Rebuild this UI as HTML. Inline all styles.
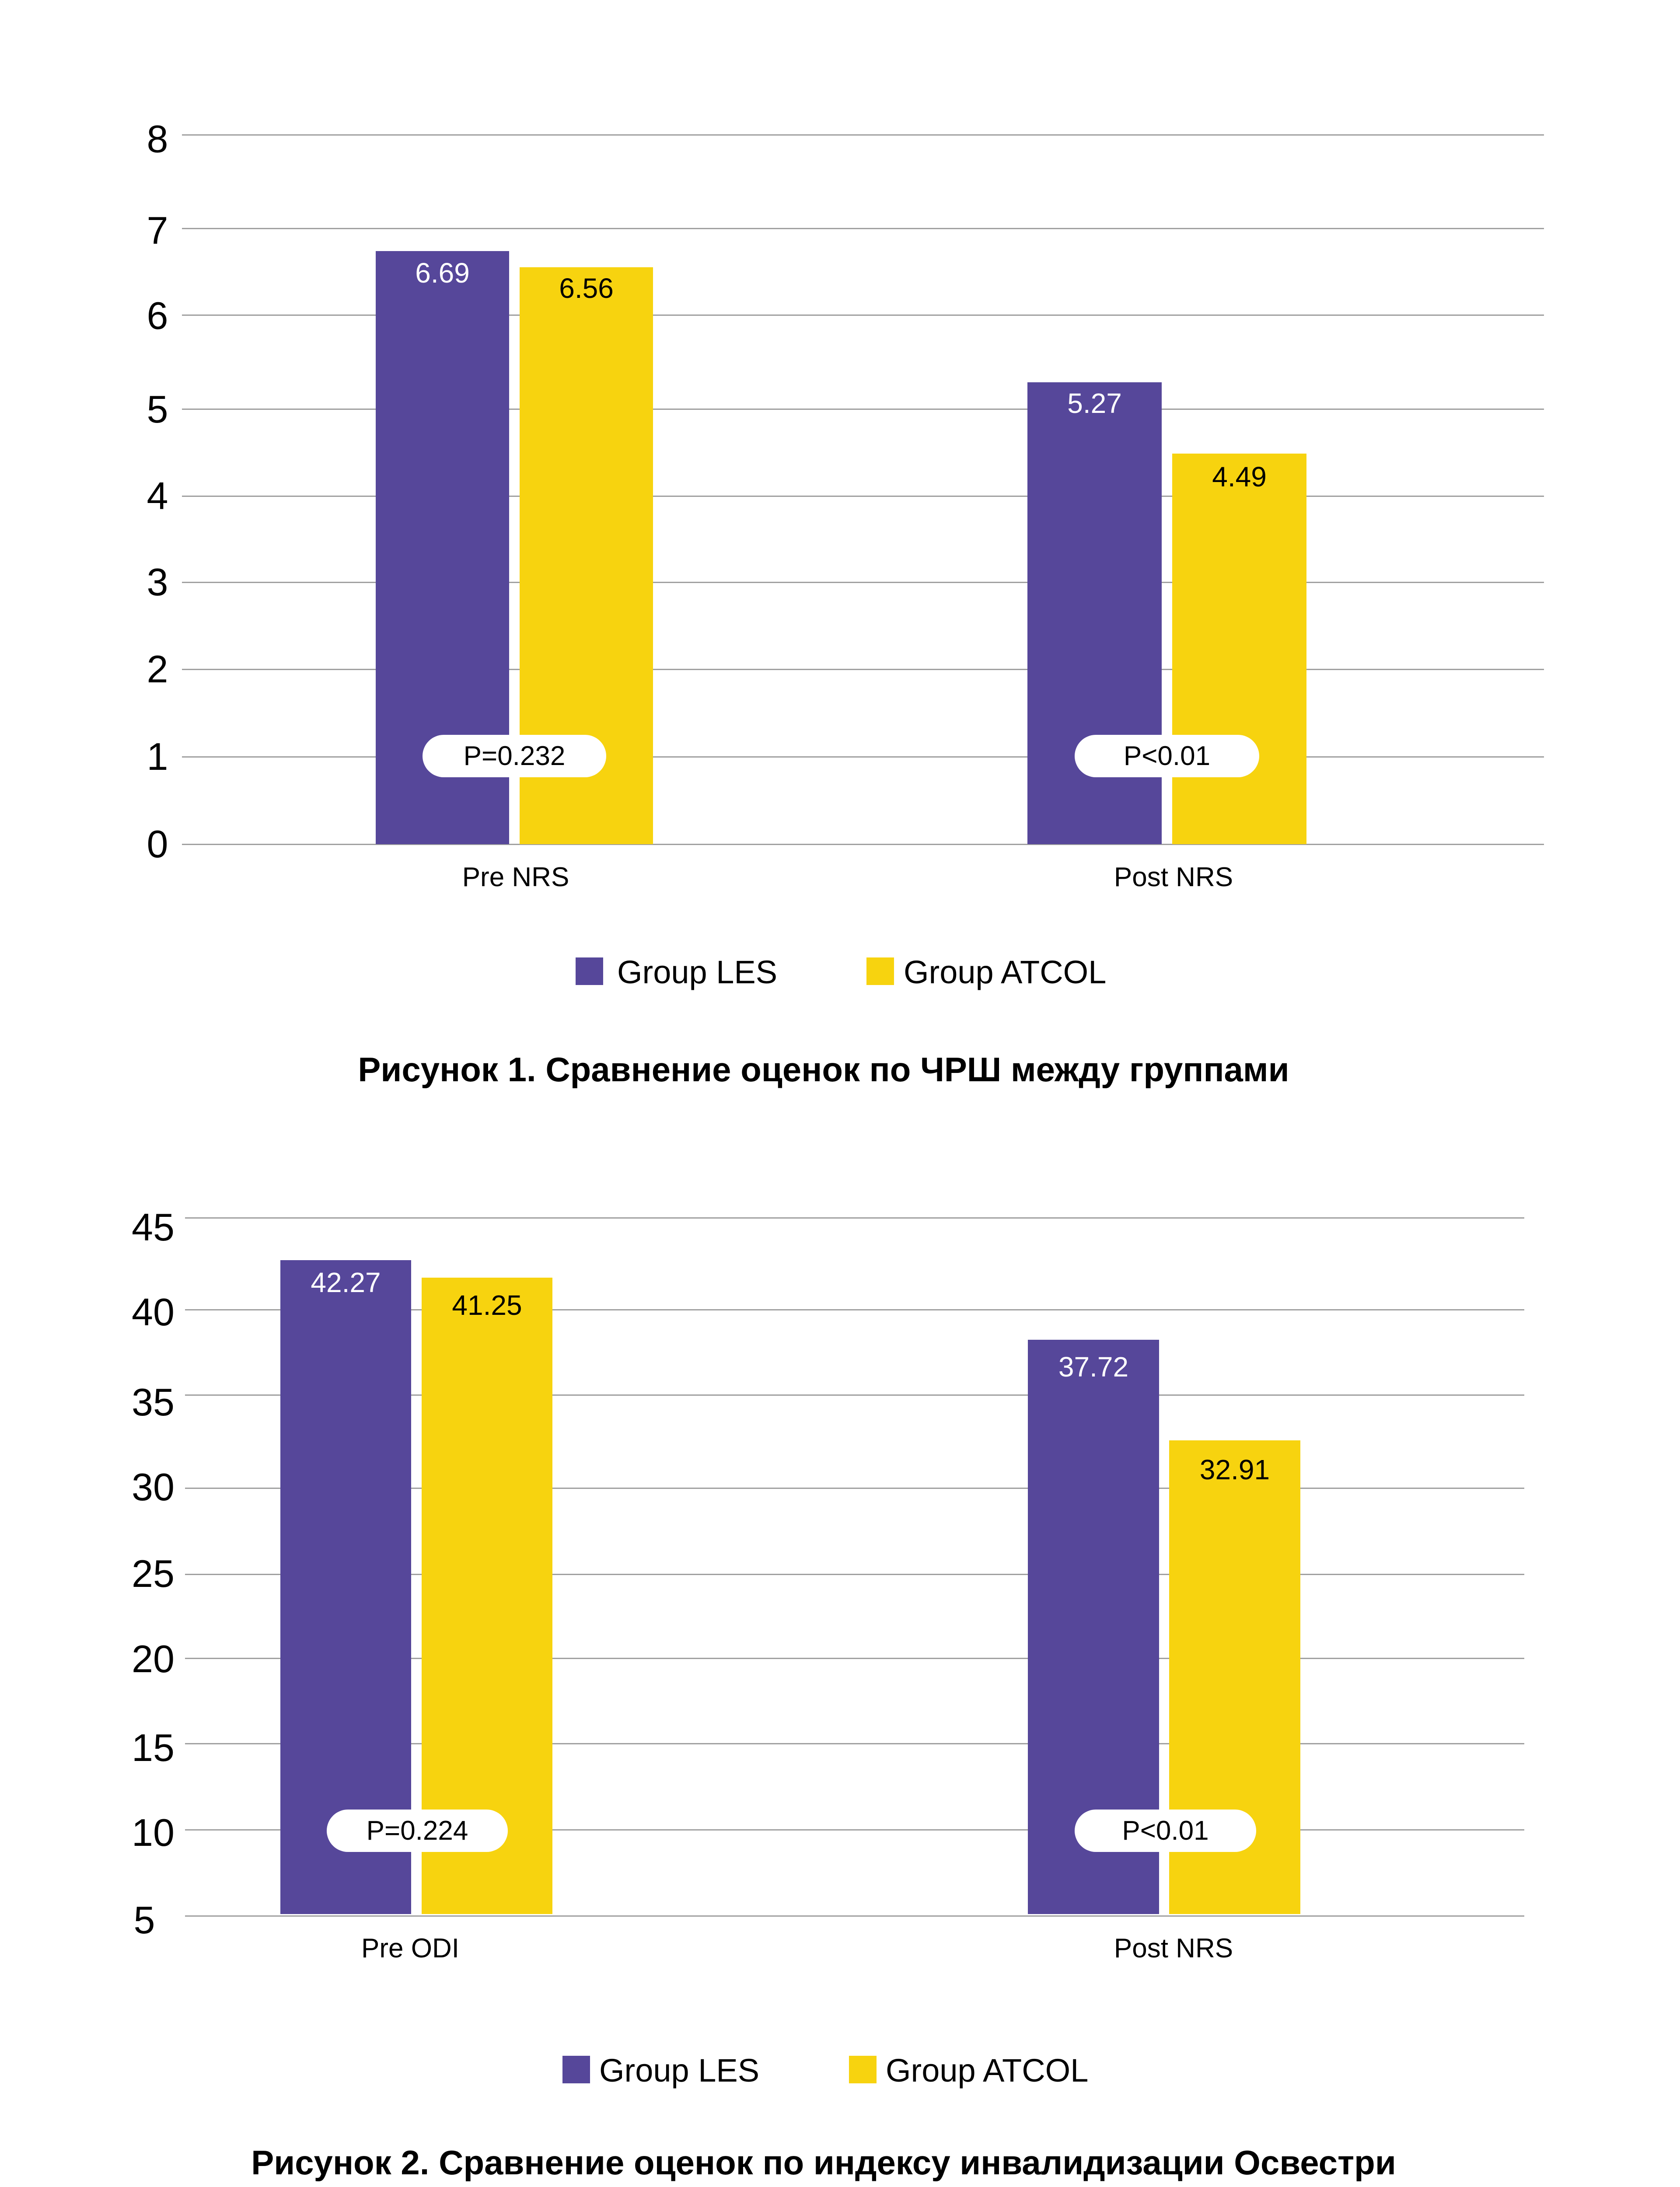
<!DOCTYPE html>
<html style="width:3841px;height:5250px;overflow:hidden"><head><meta charset="utf-8"><style>
html,body{margin:0;padding:0}
body{width:3841px;height:5250px;background:#fff;position:relative;overflow:hidden;font-family:"Liberation Sans",sans-serif;color:#000}
div{position:absolute;box-sizing:border-box}
.g{height:3px;background:#a0a0a0}
.t{font-size:88px;width:140px;text-align:center;line-height:1;transform:translateY(-50%)}
.p{background:#56479a}.y{background:#f7d30f}
.v{font-size:64px;text-align:center;line-height:1}
.pill{background:#fff;border-radius:50px;font-size:62px;text-align:center;display:flex;align-items:center;justify-content:center}
.c{font-size:62px;text-align:center;line-height:1;width:600px}
.lg{font-size:74px;line-height:1;white-space:nowrap}
.ti{font-size:78px;font-weight:bold;text-align:center;width:3766px;left:0;line-height:100px}
</style></head><body>
<!-- Chart 1 -->
<div class="g" style="left:416px;width:3114px;top:307px"></div>
<div class="g" style="left:416px;width:3114px;top:521px"></div>
<div class="g" style="left:416px;width:3114px;top:719px"></div>
<div class="g" style="left:416px;width:3114px;top:934px"></div>
<div class="g" style="left:416px;width:3114px;top:1133px"></div>
<div class="g" style="left:416px;width:3114px;top:1330px"></div>
<div class="g" style="left:416px;width:3114px;top:1529px"></div>
<div class="g" style="left:416px;width:3114px;top:1729px"></div>
<div class="g" style="left:416px;width:3114px;top:1929px"></div>
<div class="t" style="left:290px;top:318px">8</div>
<div class="t" style="left:290px;top:527px">7</div>
<div class="t" style="left:290px;top:722px">6</div>
<div class="t" style="left:290px;top:936px">5</div>
<div class="t" style="left:290px;top:1134px">4</div>
<div class="t" style="left:290px;top:1331px">3</div>
<div class="t" style="left:290px;top:1530px">2</div>
<div class="t" style="left:290px;top:1730px">1</div>
<div class="t" style="left:290px;top:1930px">0</div>
<div class="p" style="left:859px;width:305px;top:574px;height:1356px"></div>
<div class="y" style="left:1188px;width:305px;top:611px;height:1319px"></div>
<div class="v" style="left:859px;width:305px;top:592px;color:#fff">6.69</div>
<div class="v" style="left:1188px;width:305px;top:627px">6.56</div>
<div class="pill" style="left:966px;width:420px;top:1680px;height:97px">P=0.232</div>
<div class="c" style="left:879px;top:1975px">Pre NRS</div>
<div class="p" style="left:2349px;width:307px;top:874px;height:1056px"></div>
<div class="y" style="left:2680px;width:307px;top:1037px;height:893px"></div>
<div class="v" style="left:2349px;width:307px;top:890px;color:#fff">5.27</div>
<div class="v" style="left:2680px;width:307px;top:1058px">4.49</div>
<div class="pill" style="left:2457px;width:422px;top:1680px;height:97px">P&lt;0.01</div>
<div class="c" style="left:2383px;top:1975px">Post NRS</div>
<div class="p" style="left:1316px;top:2189px;width:63px;height:63px"></div>
<div class="lg" style="left:1411px;top:2186px">Group LES</div>
<div class="y" style="left:1981px;top:2189px;width:63px;height:63px"></div>
<div class="lg" style="left:2066px;top:2186px">Group ATCOL</div>
<div class="ti" style="top:2395px">Рисунок 1. Сравнение оценок по ЧРШ между группами</div>
<!-- Chart 2 -->
<div class="g" style="left:423px;width:3062px;top:2783px"></div>
<div class="g" style="left:423px;width:3062px;top:2993px"></div>
<div class="g" style="left:423px;width:3062px;top:3188px"></div>
<div class="g" style="left:423px;width:3062px;top:3401px"></div>
<div class="g" style="left:423px;width:3062px;top:3598px"></div>
<div class="g" style="left:423px;width:3062px;top:3790px"></div>
<div class="g" style="left:423px;width:3062px;top:3985px"></div>
<div class="g" style="left:423px;width:3062px;top:4182px"></div>
<div class="g" style="left:423px;width:3062px;top:4379px"></div>
<div class="t" style="left:280px;top:2806px">45</div>
<div class="t" style="left:280px;top:3000px">40</div>
<div class="t" style="left:280px;top:3206px">35</div>
<div class="t" style="left:280px;top:3400px">30</div>
<div class="t" style="left:280px;top:3598px">25</div>
<div class="t" style="left:280px;top:3793px">20</div>
<div class="t" style="left:280px;top:3996px">15</div>
<div class="t" style="left:280px;top:4190px">10</div>
<div class="t" style="left:260px;top:4390px">5</div>
<div class="p" style="left:641px;width:299px;top:2881px;height:1495px"></div>
<div class="y" style="left:964px;width:299px;top:2921px;height:1455px"></div>
<div class="v" style="left:641px;width:299px;top:2900px;color:#fff">42.27</div>
<div class="v" style="left:964px;width:299px;top:2952px">41.25</div>
<div class="pill" style="left:747px;width:414px;top:4137px;height:97px">P=0.224</div>
<div class="c" style="left:638px;top:4424px">Pre ODI</div>
<div class="p" style="left:2350px;width:300px;top:3063px;height:1313px"></div>
<div class="y" style="left:2673px;width:300px;top:3293px;height:1083px"></div>
<div class="v" style="left:2350px;width:300px;top:3093px;color:#fff">37.72</div>
<div class="v" style="left:2673px;width:300px;top:3328px">32.91</div>
<div class="pill" style="left:2457px;width:415px;top:4137px;height:97px">P&lt;0.01</div>
<div class="c" style="left:2383px;top:4424px">Post NRS</div>
<div class="p" style="left:1286px;top:4700px;width:63px;height:63px"></div>
<div class="lg" style="left:1370px;top:4697px">Group LES</div>
<div class="y" style="left:1941px;top:4700px;width:63px;height:63px"></div>
<div class="lg" style="left:2025px;top:4697px">Group ATCOL</div>
<div class="ti" style="top:4894px">Рисунок 2. Сравнение оценок по индексу инвалидизации Освестри</div>
<div class="ti" style="top:4996px">(ODI) между группами</div>
</body></html>
